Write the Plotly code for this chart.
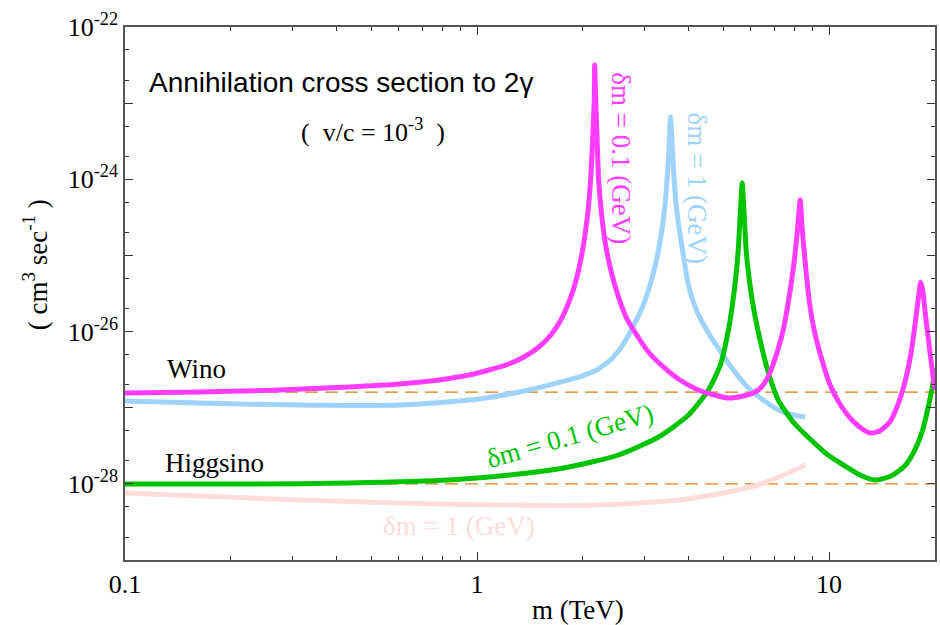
import numpy as np
import plotly.graph_objects as go

# Wino, delta m = 0.1 GeV  (mass in TeV, log10 of sigma*v in cm^3/s)
wino01_m = [0.100, 0.163, 0.275, 0.434, 0.601, 0.780, 0.949, 1.081, 1.232, 1.359,
            1.499, 1.621, 1.730, 1.834, 1.919, 1.995, 2.061, 2.102, 2.131, 2.153,
            2.159, 2.174, 2.194, 2.216, 2.260, 2.319, 2.411, 2.523, 2.659, 2.818,
            3.068, 3.385, 3.733, 4.253, 4.849, 5.178, 5.705, 6.168, 6.501, 6.806,
            7.125, 7.410, 7.655, 7.906, 8.111, 8.280, 8.395, 8.554, 8.779, 9.075,
            9.493, 10.07, 10.74, 11.69, 12.56, 13.15, 13.94, 14.88, 15.67, 16.40,
            17.06, 17.62, 17.98, 18.22, 18.45, 18.82, 19.32, 19.97]
wino01_logsv = [-26.807, -26.794, -26.767, -26.728, -26.689, -26.636, -26.571, -26.505,
                -26.426, -26.334, -26.203, -26.045, -25.848, -25.585, -25.297, -24.929,
                -24.469, -24.009, -23.484, -22.959, -22.499, -22.959, -23.484, -24.009,
                -24.469, -24.863, -25.231, -25.546, -25.822, -26.019, -26.268, -26.465,
                -26.623, -26.767, -26.846, -26.873, -26.846, -26.794, -26.702, -26.531,
                -26.268, -25.979, -25.625, -25.191, -24.732, -24.272, -24.666, -25.086,
                -25.585, -25.979, -26.334, -26.702, -26.951, -27.175, -27.293, -27.332,
                -27.306, -27.188, -26.965, -26.676, -26.308, -25.848, -25.520, -25.349,
                -25.454, -25.809, -26.242, -26.767]

# Wino, delta m = 1 GeV
wino1_m = [0.100, 0.163, 0.313, 0.601, 1.014, 1.403, 1.945, 2.188, 2.411, 2.606, 2.818,
           2.989, 3.131, 3.258, 3.367, 3.431, 3.474, 3.509, 3.545, 3.592, 3.639, 3.707,
           3.835, 3.988, 4.200, 4.543, 5.350, 5.900, 6.501, 7.174, 7.906, 8.554]
wino1_logsv = [-26.912, -26.938, -26.965, -26.965, -26.886, -26.767, -26.597, -26.505,
               -26.360, -26.163, -25.874, -25.612, -25.323, -24.994, -24.600, -24.272,
               -23.944, -23.615, -23.182, -23.615, -24.075, -24.469, -24.929, -25.388,
               -25.717, -26.019, -26.505, -26.741, -26.899, -27.030, -27.096, -27.122]

# Higgsino, delta m = 0.1 GeV
hig01_m = [0.100, 0.226, 0.434, 0.834, 1.315, 1.823, 2.523, 3.279, 3.988, 4.543, 4.911,
           5.178, 5.383, 5.522, 5.594, 5.667, 5.741, 5.815, 5.936, 6.131, 6.418, 6.757,
           7.174, 7.906, 8.892, 9.935, 11.10, 12.24, 13.49, 14.99, 16.40, 17.52, 18.45,
           19.19, 19.70, 19.97]
hig01_logsv = [-28.002, -28.002, -27.989, -27.950, -27.871, -27.779, -27.621, -27.385,
               -27.096, -26.767, -26.439, -25.979, -25.454, -24.929, -24.469, -24.049,
               -24.469, -24.929, -25.323, -25.743, -26.177, -26.571, -26.899, -27.188,
               -27.424, -27.621, -27.766, -27.884, -27.950, -27.897, -27.766, -27.556,
               -27.293, -26.965, -26.702, -26.479]

# Higgsino, delta m = 1 GeV
hig1_m = [0.100, 0.163, 0.313, 0.601, 1.153, 2.216, 3.733, 5.178, 6.295, 7.410, 8.554]
hig1_logsv = [-28.120, -28.160, -28.212, -28.252, -28.278, -28.278, -28.212, -28.107,
              -28.015, -27.884, -27.752]

# reference levels (dashed)
wino_ref = 1.6e-27
higgsino_ref = 1.0e-28
ref_m = [0.1, 20.0]

x_tick_vals = [0.1, 1, 10]
x_tick_text = ["0.1", "1", "10"]
y_label_exps = [-22, -24, -26, -28]

SERIF = "Liberation Serif"
SANS = "Liberation Sans"
MAGENTA = "#ff3cff"
SKY = "#9fd3fb"
GREEN = "#00c400"
PINK = "#fddcdc"
ORANGE = "#de7d10"

fig = go.Figure()

for yv in (wino_ref, higgsino_ref):
    fig.add_trace(go.Scatter(x=ref_m, y=[yv, yv], mode="lines",
                             line=dict(color=ORANGE, width=1.4, dash="13px,7px"),
                             hoverinfo="skip", showlegend=False))

for m, ls, col in [(hig1_m, hig1_logsv, PINK), (wino1_m, wino1_logsv, SKY),
                   (hig01_m, hig01_logsv, GREEN), (wino01_m, wino01_logsv, MAGENTA)]:
    fig.add_trace(go.Scatter(x=m, y=10.0 ** np.array(ls), mode="lines",
                             line=dict(color=col, width=5, shape="spline", smoothing=0.6),
                             showlegend=False))

# plot area in pixels
PL, PR, PT, PB = 125, 937, 27, 560
W, H = 940, 625


def px(x):
    return (x - PL) / (PR - PL)


def py(y):
    return 1 - (y - PT) / (PB - PT)


def note(text, x, y, size, color="black", family=SERIF, angle=0, xanchor="center"):
    fig.add_annotation(text=text, x=px(x), y=py(y), xref="paper", yref="paper",
                       showarrow=False, textangle=angle, xanchor=xanchor, yanchor="middle",
                       font=dict(family=family, size=size, color=color))


note("Annihilation cross section to 2γ", 147, 82, 28, family=SANS, xanchor="left")
note("(  v/c = 10<sup>-3</sup>  )", 374, 131, 26)
note("Wino", 197, 369, 27)
note("Higgsino", 215, 463, 27)
note("δm = 0.1 (GeV)", 622, 158, 27, color=MAGENTA, angle=90)
note("δm = 1 (GeV)", 698, 188, 27, color=SKY, angle=90)
note("δm = 0.1 (GeV)", 571, 436, 27, color=GREEN, angle=-16)
note("δm = 1 (GeV)", 460, 526, 27, color=PINK)
note("( cm<sup>3</sup> sec<sup>-1</sup> )", 35, 265, 27, angle=-90)
note("m (TeV)", 579, 610, 27)

# tick positions
x_minor = [k * 10.0 ** d for d in (-1, 0, 1) for k in range(2, 10) if k * 10.0 ** d < 20]
y_major = [10.0 ** e for e in range(-29, -21)]
y_minor = [k * 10.0 ** e for e in range(-29, -22) for k in (2, 5)]

axis_common = dict(showline=True, linecolor="#555555", linewidth=1.5, mirror="ticks",
                   ticks="inside", tickcolor="#333333", tickwidth=1.2, ticklen=8,
                   showgrid=False, zeroline=False)

fig.update_xaxes(type="log", range=[-1, np.log10(20)], tickmode="array",
                 tickvals=x_tick_vals, ticktext=x_tick_text,
                 tickfont=dict(family=SERIF, size=26, color="black"),
                 minor=dict(tickmode="array", tickvals=x_minor, ticks="inside", ticklen=4,
                            tickcolor="#333333", tickwidth=1.2, showgrid=False),
                 **axis_common)
fig.update_yaxes(type="log", range=[-29, -22], tickmode="array",
                 tickvals=y_major,
                 ticktext=["10<sup>%d</sup>" % e if e in y_label_exps else ""
                           for e in range(-29, -21)],
                 tickfont=dict(family=SERIF, size=26, color="black"),
                 minor=dict(tickmode="array", tickvals=y_minor, ticks="inside", ticklen=4,
                            tickcolor="#333333", tickwidth=1.2, showgrid=False),
                 **axis_common)

fig.update_layout(width=W, height=H, margin=dict(l=PL, r=W - PR, t=PT, b=H - PB),
                  plot_bgcolor="white", paper_bgcolor="white")

fig.write_html("out.html")
